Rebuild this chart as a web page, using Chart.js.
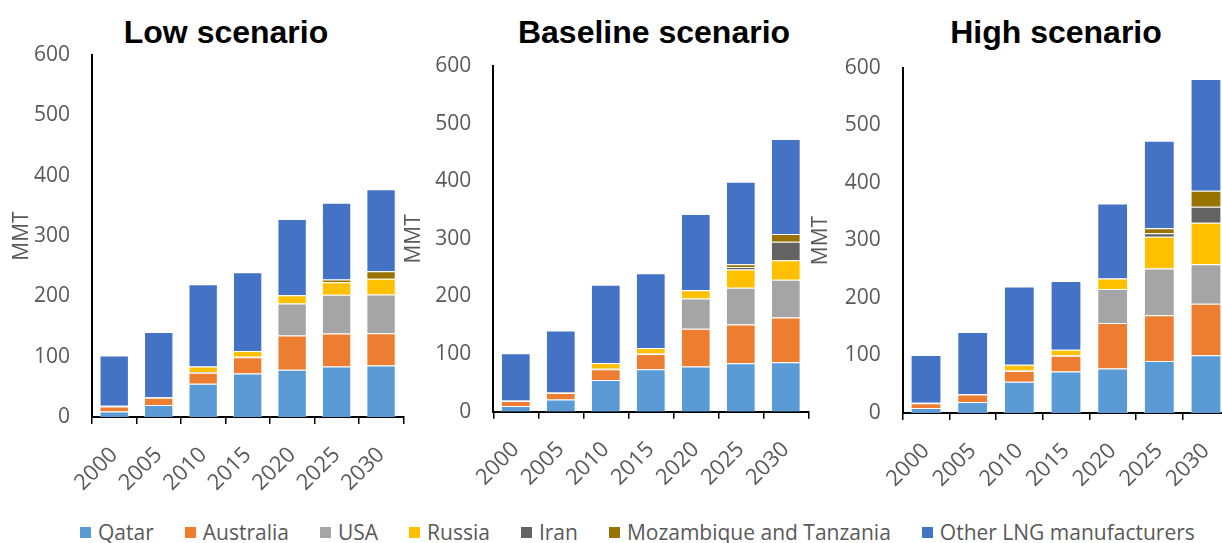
<!DOCTYPE html>
<html>
<head>
<meta charset="utf-8">
<title>LNG production by scenario</title>
<script src="https://cdn.jsdelivr.net/npm/chart.js@4.4.0/dist/chart.umd.min.js"></script>
<style>
  html, body { margin: 0; padding: 0; background: #ffffff; }
  body { width: 1222px; height: 543px; position: relative; overflow: hidden; }
  canvas { position: absolute; top: 0; }
  .panel-title {
    position: absolute; top: 13.9px; width: 400px; text-align: center;
    font: bold 32px "Liberation Sans", Arial, sans-serif; line-height: 36px; color: #000;
    white-space: nowrap;
  }
  #legend {
    position: absolute; left: 80px; top: 522px; display: flex; align-items: center;
    font: 21px "Open Sans", sans-serif; line-height: 20px; color: #595959; white-space: nowrap;
  }
  #legend .item { display: flex; align-items: center; margin-right: 31px; }
  #legend .swatch { display: inline-block; width: 11px; height: 11px; margin-right: 7px; }
</style>
</head>
<body>
<div class="panel-title" style="left:26px">Low scenario</div>
<div class="panel-title" style="left:454px">Baseline scenario</div>
<div class="panel-title" style="left:856px">High scenario</div>
<canvas id="low" width="412" height="510" style="left:0px"></canvas>
<canvas id="baseline" width="416" height="510" style="left:400px"></canvas>
<canvas id="high" width="437" height="510" style="left:800px"></canvas>
<div id="legend"></div>
<script>
// Years on the category axis
const years = ['2000', '2005', '2010', '2015', '2020', '2025', '2030'];

// Producer names, in stacking order (bottom to top)
const producers = ['Qatar', 'Australia', 'USA', 'Russia', 'Iran', 'Mozambique and Tanzania', 'Other LNG manufacturers'];

// Y axis ticks (MMT)
const yTicks = [0, 100, 200, 300, 400, 500, 600];

// Low scenario, MMT
const lowQatar      = [9, 20, 55, 72, 78.5, 83.5, 85.5];
const lowAustralia  = [8.5, 12, 18.5, 27, 56.5, 55, 53.5];
const lowUSA        = [1, 1, 1, 1, 53, 64, 64];
const lowRussia     = [0, 0, 9, 9.5, 14, 21, 26];
const lowIran       = [0, 0, 0, 0, 0, 0, 0];
const lowMozambique = [0, 0, 0, 0, 0, 4.5, 12.5];
const lowOther      = [83.5, 108, 136.5, 130.5, 126, 127, 136];

// Baseline scenario, MMT
const baseQatar      = [10, 21, 55, 73.5, 78.5, 84, 86];
const baseAustralia  = [8.5, 11.5, 18.5, 26.5, 65.5, 67.5, 77.5];
const baseUSA        = [1, 1.5, 1, 1, 52.5, 63.5, 65.5];
const baseRussia     = [0, 0, 10, 9.5, 14.5, 32, 34];
const baseIran       = [0, 0, 0, 0, 0, 4, 32];
const baseMozambique = [0, 0, 0, 0, 0, 5, 13.5];
const baseOther      = [82, 107, 136, 130, 132, 143, 165];

// High scenario, MMT
const highQatar      = [8.5, 19, 54.5, 72, 77.5, 90.5, 100.5];
const highAustralia  = [8.5, 13, 18.5, 27.5, 79, 79.5, 89.5];
const highUSA        = [1, 1, 1, 1, 59, 81.5, 68.5];
const highRussia     = [0, 0, 10, 9.5, 18.5, 55, 72.5];
const highIran       = [0, 0, 0, 0, 0, 6, 27.5];
const highMozambique = [0, 0, 0, 0, 0, 9, 28];
const highOther      = [83, 108, 136, 119.5, 130.5, 152, 194.5];

// Fill colour per producer
const palette = ['#5B9BD5', '#ED7D31', '#A5A5A5', '#FFC000', '#636363', '#997300', '#4472C4'];

const fontFamily = '"Open Sans", sans-serif';
const textGrey = '#595959';

function buildChart(canvasId, seriesList, frame) {
  const datasets = seriesList.map((values, i) => ({
    label: producers[i],
    data: values,
    backgroundColor: palette[i],
    borderColor: 'rgba(255,255,255,0.55)',
    borderWidth: 1,
    categoryPercentage: 1,
    barPercentage: 0.66
  }));
  return new Chart(document.getElementById(canvasId), {
    type: 'bar',
    data: { labels: years, datasets },
    options: {
      responsive: false,
      devicePixelRatio: 1,
      animation: false,
      layout: { padding: { left: 0, right: frame.padRight, top: frame.top, bottom: 0 } },
      plugins: { legend: { display: false }, tooltip: { enabled: false }, title: { display: false } },
      scales: {
        x: {
          stacked: true,
          offset: true,
          grid: { offset: true, drawOnChartArea: false, drawTicks: true, tickLength: 7, color: '#000', lineWidth: 1.5 },
          border: { color: '#000', width: 2 },
          ticks: { autoSkip: false, minRotation: 45, maxRotation: 45, padding: 18, color: textGrey, font: { family: fontFamily, size: 22 } },
          afterFit: (scale) => {
            // fixed axis band; the rotated labels may overhang the plot edges
            scale.height = frame.xHeight;
            scale.paddingLeft = 0;
            scale.paddingRight = 0;
          }
        },
        y: {
          stacked: true,
          min: yTicks[0],
          max: yTicks[yTicks.length - 1],
          afterBuildTicks: (scale) => { scale.ticks = yTicks.map(v => ({ value: v })); },
          grid: { display: false, drawTicks: false },
          border: { display: true, color: '#000', width: 2 },
          ticks: { padding: 22, color: textGrey, font: { family: fontFamily, size: 21 } },
          title: { display: true, text: 'MMT', color: textGrey, font: { family: fontFamily, size: 21 }, padding: { top: frame.titlePad, bottom: 0 } },
          afterFit: (scale) => { scale.width = frame.yWidth; }
        }
      }
    }
  });
}

buildChart('low',
  [lowQatar, lowAustralia, lowUSA, lowRussia, lowIran, lowMozambique, lowOther],
  { yWidth: 92, padRight: 8.7, top: 55, xHeight: 93, titlePad: 9.2 });

buildChart('baseline',
  [baseQatar, baseAustralia, baseUSA, baseRussia, baseIran, baseMozambique, baseOther],
  { yWidth: 93.3, padRight: 7.7, top: 66, xHeight: 98.3, titlePad: 1 });

buildChart('high',
  [highQatar, highAustralia, highUSA, highRussia, highIran, highMozambique, highOther],
  { yWidth: 102.7, padRight: 7.7, top: 68, xHeight: 97, titlePad: 8.5 });

// Shared legend below the three panels
const legend = document.getElementById('legend');
producers.forEach((name, i) => {
  const item = document.createElement('span');
  item.className = 'item';
  const sw = document.createElement('span');
  sw.className = 'swatch';
  sw.style.background = palette[i];
  item.appendChild(sw);
  item.appendChild(document.createTextNode(name));
  legend.appendChild(item);
});
</script>
</body>
</html>
